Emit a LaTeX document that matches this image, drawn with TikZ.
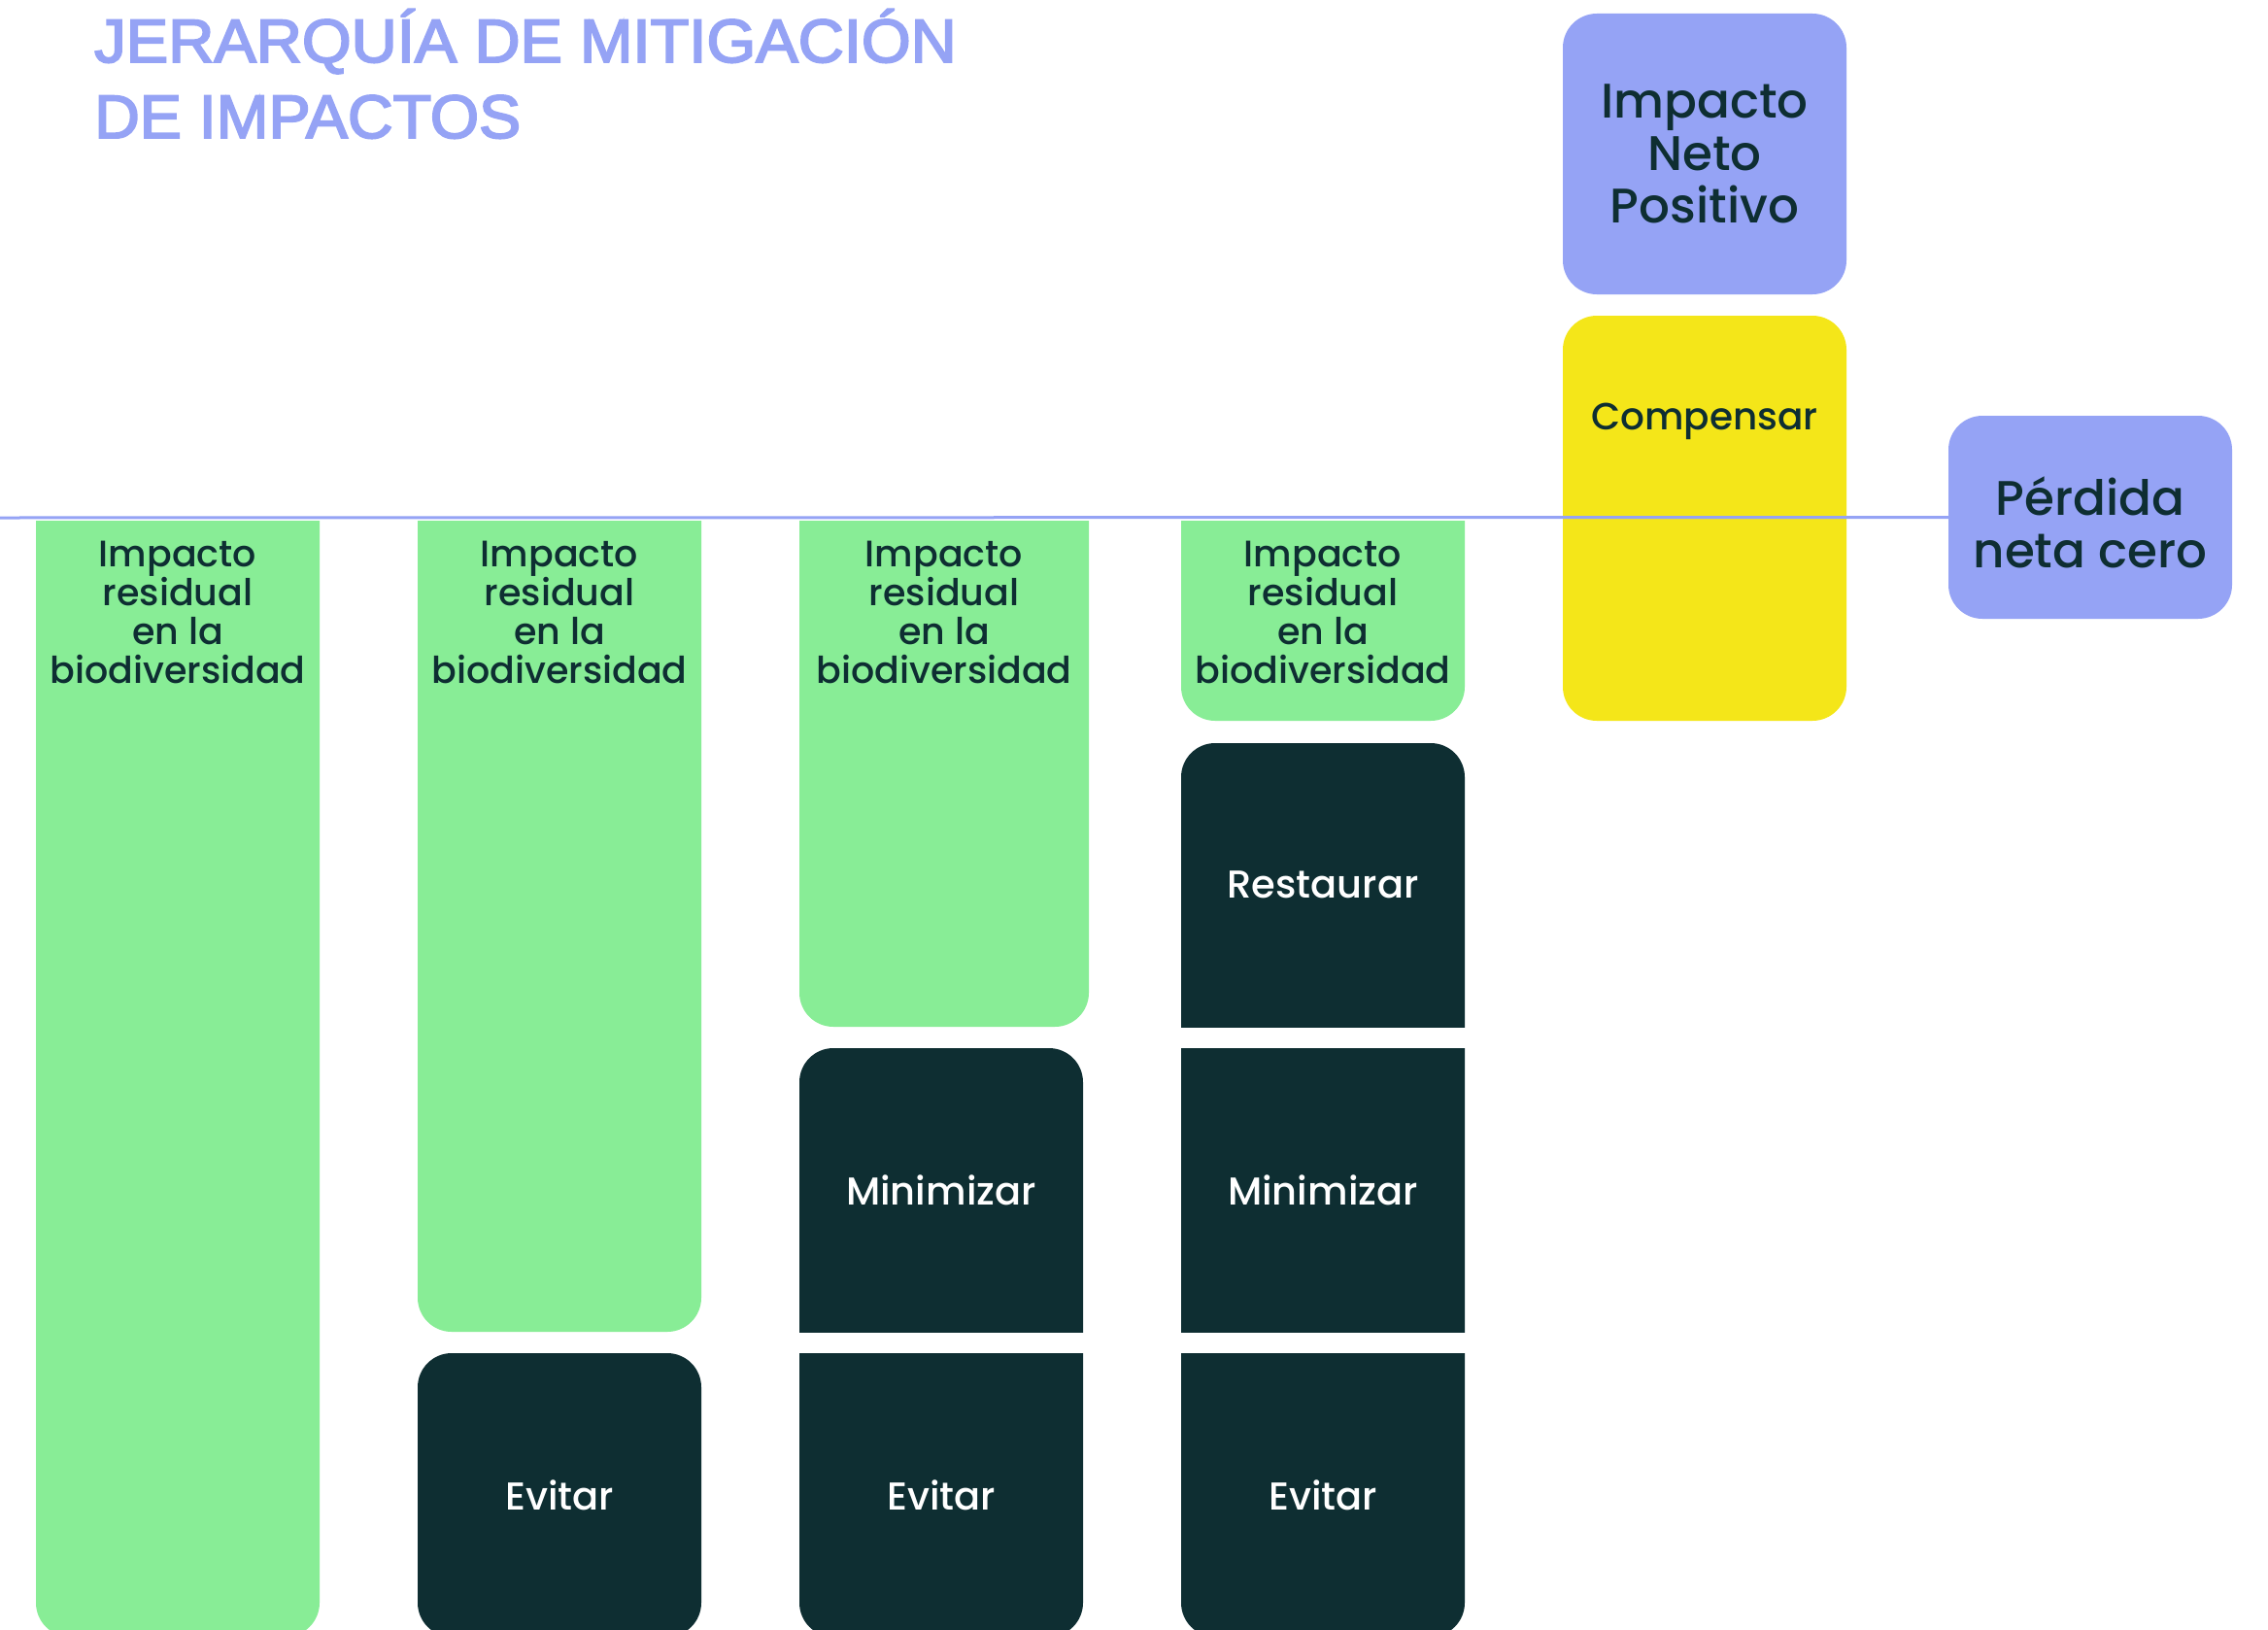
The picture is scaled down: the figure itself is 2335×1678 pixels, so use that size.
\documentclass[tikz,border=0pt]{standalone}
\usepackage{fontspec}
\setmainfont{Poppins}[UprightFont=*-Medium]
\newfontfamily\titlefont{Liberation Sans}[FakeBold=3]
\definecolor{cgreen}{HTML}{88ED96}
\definecolor{cdark}{HTML}{0E2E32}
\definecolor{cblue}{HTML}{95A3F5}
\definecolor{cyellow}{HTML}{F4E619}
% #1 node name, #2 colour, #3 extension above (square top), #4 extension below (square bottom)
\newcommand\boxfill[4]{%
  \begin{scope}
    \clip (#1.north west) rectangle (#1.south east);
    \fill[#2, rounded corners=35pt] ([yshift=#3]#1.north west) rectangle ([yshift=-#4]#1.south east);
  \end{scope}}
\tikzset{
  box/.style={inner sep=0pt, outer sep=0pt, minimum width=292pt, anchor=north west},
  gtext/.style={inner sep=0pt, align=center, text=cdark, font=\fontsize{38pt}{40pt}\selectfont},
  ttl/.style={anchor=base west, inner sep=0pt, text=cblue, font=\titlefont\fontsize{63pt}{63pt}\selectfont}
}
\begin{document}
\begin{tikzpicture}[x=1pt,y=-1pt]
\useasboundingbox[fill=white] (0,0) rectangle (2335,1678);
\clip (0,0) rectangle (2335,1678);
% title
\node[ttl] (title1) at (97,64) {\scalebox{1.035}[1]{JERARQUÍA DE MITIGACIÓN}};
\node[ttl] (title2) at (97,142) {\scalebox{1.025}[1]{DE IMPACTOS}};
% box frames (named nodes)
\node[box, minimum height=1149pt] (g1) at (37,536) {};
\node[box, minimum height=835pt] (g2) at (430,536) {};
\node[box, minimum height=521pt, minimum width=298pt] (g3) at (823,536) {};
\node[box, minimum height=206pt] (g4) at (1216,536) {};
\node[box, minimum height=292pt] (ev2) at (430,1393) {};
\node[box, minimum height=292pt] (mi3) at (823,1079) {};
\node[box, minimum height=292pt] (ev3) at (823,1393) {};
\node[box, minimum height=292pt] (re4) at (1216,765) {};
\node[box, minimum height=292pt] (mi4) at (1216,1079) {};
\node[box, minimum height=292pt] (ev4) at (1216,1393) {};
\node[box, minimum height=417pt] (comp) at (1609,325) {};
\node[box, minimum height=289pt] (inp) at (1609,14) {};
\node[box, minimum height=209pt] (pnc) at (2006,428) {};
% fills
\boxfill{g1}{cgreen}{60pt}{0pt}
\boxfill{g2}{cgreen}{60pt}{0pt}
\boxfill{g3}{cgreen}{60pt}{0pt}
\boxfill{g4}{cgreen}{60pt}{0pt}
\boxfill{ev2}{cdark}{0pt}{0pt}
\boxfill{mi3}{cdark}{0pt}{60pt}
\boxfill{ev3}{cdark}{60pt}{0pt}
\boxfill{re4}{cdark}{0pt}{60pt}
\boxfill{mi4}{cdark}{60pt}{60pt}
\boxfill{ev4}{cdark}{60pt}{0pt}
\boxfill{comp}{cyellow}{0pt}{0pt}
\boxfill{inp}{cblue}{0pt}{0pt}
\boxfill{pnc}{cblue}{0pt}{0pt}
% labels
\foreach \g in {g1,g2,g3,g4}{
  \node[gtext] (t\g) at ([yshift=-94pt]\g.north) {Impacto\\residual\\en la\\biodiversidad};
}
\foreach \b/\t in {ev2/Evitar,mi3/Minimizar,ev3/Evitar,re4/Restaurar,mi4/Minimizar,ev4/Evitar}{
  \node[inner sep=0pt, text=white, font=\fontsize{40pt}{44pt}\selectfont] (t\b) at (\b.center) {\t};
}
\node[anchor=base, inner sep=0pt, text=cdark, font=\fontsize{39pt}{42pt}\selectfont] (tcomp) at (1755,442) {Compensar};
\node[inner sep=0pt, align=center, text=cdark, font=\fontsize{50pt}{54pt}\selectfont] (tinp) at (inp.center) {Impacto\\Neto\\Positivo};
\node[inner sep=0pt, align=center, text=cdark, font=\fontsize{50pt}{54pt}\selectfont] (tpnc) at ([yshift=-5pt]pnc.center) {Pérdida\\neta cero};
% line
\coordinate (lstart) at (0,533);
\draw[cblue, line width=3pt] (lstart) -- (pnc.west);
\end{tikzpicture}
\end{document}
